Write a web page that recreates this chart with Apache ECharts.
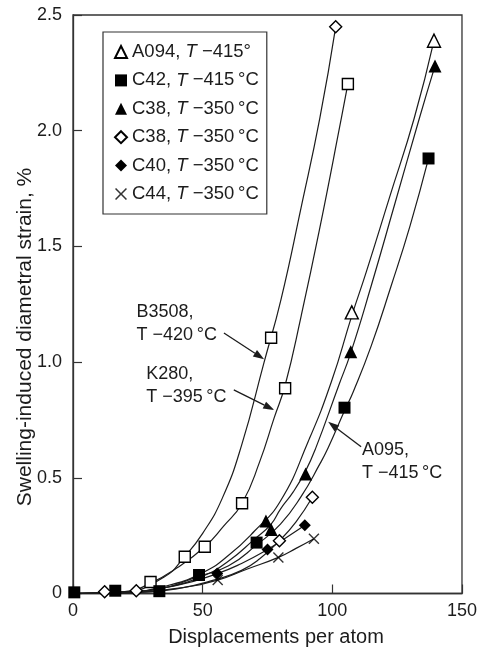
<!DOCTYPE html>
<html><head><meta charset="utf-8">
<script src="https://cdn.jsdelivr.net/npm/echarts@6.0.0/dist/echarts.min.js"></script>
<style>html,body{margin:0;padding:0;background:#fff}#c{width:480px;height:648px}</style>
</head><body><div id="c"></div>
<script>
// ---- tick values ----
const xTicks = [0, 50, 100, 150];
const yTicks = [0, 0.5, 1.0, 1.5, 2.0, 2.5];

// ---- legend entries (id, temperature text) ----
const seriesIds = ['A094', 'C42', 'C38a', 'C38b', 'C40', 'C44'];
const legendLabel = ['A094,', 'C42,', 'C38,', 'C38,', 'C40,', 'C44,'];
const legendTemp = ['\u2212415\u00b0', '\u2212415\u2009\u00b0C', '\u2212350\u2009\u00b0C', '\u2212350\u2009\u00b0C', '\u2212350\u2009\u00b0C', '\u2212350\u2009\u00b0C'];

// ---- measured points (dpa, strain %) ----
const a094Pts = [[107.5, 1.215], [139.2, 2.389]];
const c42Pts = [[0.5, 0.005], [16.3, 0.012], [33.3, 0.01], [48.6, 0.08], [70.8, 0.22], [104.7, 0.803], [137.1, 1.88]];
const c38TriPts = [[74.4, 0.313], [76.4, 0.277], [89.7, 0.516], [107.1, 1.045], [139.6, 2.28]];
const c38DiaPts = [[12.2, 0.008], [24.4, 0.012], [79.6, 0.228], [92.3, 0.416], [101.3, 2.449]];
const c40Pts = [[55.6, 0.086], [75.0, 0.19], [89.4, 0.295]];
const c44Pts = [[55.8, 0.058], [79.2, 0.156], [92.9, 0.237]];
const openSqPts = [[29.9, 0.05], [43.1, 0.159], [50.8, 0.202], [65.2, 0.39], [76.4, 1.105], [81.8, 0.887], [106.0, 2.202]];

// ---- fitted curves ----
const curveB3508 = [[0,0],[20,0.008],[35,0.07],[43.1,0.16],[50,0.26],[57.5,0.41],[65,0.64],[73.7,1.0],[80.2,1.27],[88,1.67],[95.2,2.055],[101.3,2.449]];
const curveK280 = [[0,0],[20,0.008],[30,0.045],[40,0.11],[50.8,0.202],[58,0.29],[65.2,0.39],[72,0.57],[77.6,0.76],[81.8,0.9],[88,1.2],[95,1.57],[103.5,2.055],[106,2.202]];
const curveA094 = [[0,0],[20,0.005],[35,0.03],[50,0.09],[60,0.165],[70,0.27],[80,0.40],[90.7,0.657],[99.7,0.917],[107.5,1.2],[113.1,1.39],[122,1.71],[131.6,2.055],[139.2,2.389]];
const curveC38Tri = [[0,0],[20,0.004],[35,0.025],[50,0.075],[60,0.14],[70,0.235],[76.4,0.30],[80,0.365],[85,0.44],[89.7,0.53],[93.5,0.625],[102.5,0.9],[107.1,1.04],[115,1.33],[124,1.68],[133.6,2.055],[139.6,2.28]];
const curveC42 = [[0,0],[16.3,0.005],[33.3,0.02],[48.6,0.075],[60,0.12],[70.8,0.21],[80,0.30],[88,0.42],[95.2,0.56],[98.4,0.63],[104.7,0.79],[108,0.87],[115,1.07],[122.7,1.33],[130,1.59],[137.1,1.88]];
const curveC38Dia = [[0,0],[12.2,0.001],[24.4,0.004],[40,0.02],[55,0.06],[65,0.10],[72,0.15],[79.6,0.228],[86,0.31],[92.3,0.416]];
const curveC40 = [[0,0],[20,0.005],[40,0.035],[55.6,0.086],[65,0.13],[75,0.19],[82,0.24],[89.4,0.295]];
const curveC44 = [[0,0],[20,0.004],[40,0.022],[55.8,0.058],[67,0.105],[79.2,0.156],[86,0.195],[92.9,0.237]];

// ---- annotations (text lines, anchor in data units, arrow tail/tip in data units) ----
const annoLines = [['B3508,', 'T \u2212420\u2009\u00b0C'], ['K280,', 'T \u2212395\u2009\u00b0C'], ['A095,', 'T \u2212415\u2009\u00b0C']];
const annoAnchor = [[24.5, 1.217], [28.2, 0.949], [111.4, 0.620]];
const annoTail = [[58.2, 1.126], [62.0, 0.880], [111.1, 0.634]];
const annoTip = [[73.7, 1.012], [77.6, 0.793], [98.4, 0.742]];

const FONT = '"Liberation Sans", Arial, Helvetica, sans-serif';
const INK = '#1c1c1c';
const crossPath = 'path://M0,0.9L0.9,0L5,4.1L9.1,0L10,0.9L5.9,5L10,9.1L9.1,10L5,5.9L0.9,10L0,9.1L4.1,5Z';

const chart = echarts.init(document.getElementById('c'), null, {renderer: 'canvas'});

function curve(data) {
  return {type: 'line', data: data, smooth: 0.5, symbol: 'none', silent: true,
    lineStyle: {color: INK, width: 1.2}, z: 2, legendHoverLink: false, clip: false};
}
function marks(name, data, symbol, size, fill) {
  return {type: 'scatter', name: name, data: data, symbol: symbol, symbolSize: size, z: 5, clip: false,
    itemStyle: {color: fill ? '#000' : '#fff', borderColor: '#000', borderWidth: fill ? 0 : 1.4, opacity: 1}};
}

const series = [
  curve(curveB3508), curve(curveK280), curve(curveA094), curve(curveC38Tri),
  curve(curveC42), curve(curveC38Dia), curve(curveC40), curve(curveC44),
  marks('openSq', openSqPts, 'rect', 11, false),
  marks(seriesIds[0], a094Pts, 'triangle', 13, false),
  marks(seriesIds[1], c42Pts, 'rect', 12, true),
  marks(seriesIds[2], c38TriPts, 'triangle', 13, true),
  marks(seriesIds[3], c38DiaPts, 'diamond', 12, false),
  marks(seriesIds[4], c40Pts, 'diamond', 12, true),
  {type: 'scatter', name: seriesIds[5], data: c44Pts, symbol: crossPath, symbolSize: 11, z: 5, clip: false,
    itemStyle: {color: '#000'}}
];

const option = {
  animation: false,
  backgroundColor: '#fff',
  textStyle: {fontFamily: FONT},
  grid: {left: 73, right: 15, top: 15, bottom: 54.5, show: true, borderColor: '#333', borderWidth: 1.3, backgroundColor: 'transparent'},
  xAxis: {type: 'value', min: xTicks[0], max: xTicks[xTicks.length - 1], interval: 50,
    axisLine: {lineStyle: {color: '#333', width: 1.3}},
    axisTick: {inside: true, length: 9, lineStyle: {color: '#333', width: 1.2}},
    axisLabel: {fontSize: 18, color: INK, margin: 9, fontFamily: FONT},
    splitLine: {show: false}},
  yAxis: {type: 'value', min: yTicks[0], max: yTicks[yTicks.length - 1], interval: 0.5,
    axisLine: {lineStyle: {color: '#333', width: 1.3}},
    axisTick: {inside: true, length: 9, lineStyle: {color: '#333', width: 1.2}},
    axisLabel: {fontSize: 18, color: INK, margin: 11, fontFamily: FONT,
      formatter: v => v === 0 ? '0' : v.toFixed(1)},
    splitLine: {show: false}},
  legend: {
    data: seriesIds, orient: 'vertical', left: 103, top: 32,
    padding: [10, 8, 10, 11], itemGap: 8.4, itemWidth: 12, itemHeight: 12,
    borderColor: '#333', borderWidth: 1.2, backgroundColor: '#fff',
    selectedMode: false,
    formatter: name => {
      const i = seriesIds.indexOf(name);
      return '{n|' + legendLabel[i] + ' }{i|T}{n| ' + legendTemp[i] + '}';
    },
    textStyle: {fontFamily: FONT, color: INK, fontSize: 18.5, lineHeight: 20,
      rich: {n: {fontSize: 18.5, fontFamily: FONT, color: INK, lineHeight: 20},
             i: {fontSize: 18.5, fontFamily: FONT, color: INK, fontStyle: 'italic', lineHeight: 20}}}
  },
  series: series
};
chart.setOption(option);

// axis titles + annotations placed after layout
const g = [];
g.push({type: 'text', x: 276, y: 637, silent: true,
  style: {text: 'Displacements per atom', font: '20px ' + FONT, fill: INK, align: 'center', verticalAlign: 'middle'}});
g.push({type: 'text', x: 25, y: 337, rotation: Math.PI / 2, silent: true,
  style: {text: 'Swelling-induced diametral strain, %', font: '21px ' + FONT, fill: INK, align: 'center', verticalAlign: 'middle'}});

for (let k = 0; k < annoLines.length; k++) {
  const p = chart.convertToPixel({gridIndex: 0}, annoAnchor[k]);
  g.push({type: 'text', x: p[0], y: p[1] - 11.5, silent: true,
    style: {text: annoLines[k][0] + '\n' + annoLines[k][1], font: '18px ' + FONT, fill: INK,
      align: 'left', verticalAlign: 'top', lineHeight: 23}});
  const a = chart.convertToPixel({gridIndex: 0}, annoTail[k]);
  const b = chart.convertToPixel({gridIndex: 0}, annoTip[k]);
  const dx = b[0] - a[0], dy = b[1] - a[1], L = Math.hypot(dx, dy);
  const ux = dx / L, uy = dy / L, hl = 11, hw = 3.8;
  const bx = b[0] - ux * hl, by = b[1] - uy * hl;
  g.push({type: 'line', silent: true, shape: {x1: a[0], y1: a[1], x2: bx, y2: by}, style: {stroke: INK, lineWidth: 1.3}});
  g.push({type: 'polygon', silent: true, shape: {points: [[b[0], b[1]], [bx - uy * hw, by + ux * hw], [bx + uy * hw, by - ux * hw]]},
    style: {fill: INK}});
}
chart.setOption({graphic: g});
</script></body></html>
